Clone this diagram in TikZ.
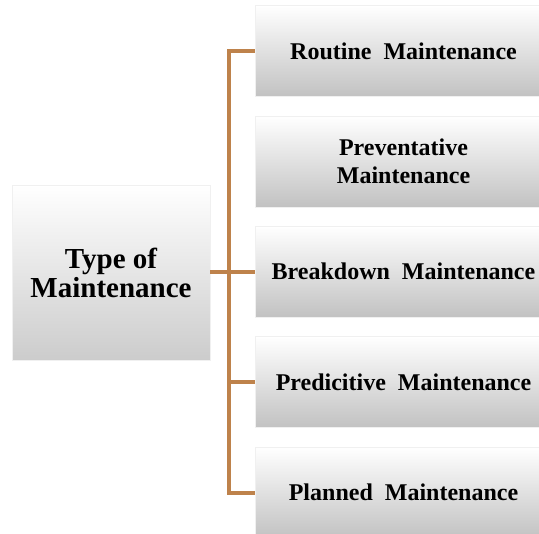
\documentclass[tikz,border=0pt]{standalone}
\usepackage{fontspec}
\setmainfont{Liberation Serif}
\usetikzlibrary{positioning}

\definecolor{bracketbrown}{RGB}{190,130,75}

\begin{document}
\begin{tikzpicture}[
  x=1pt, y=1pt,
  typebox/.style={
     rectangle,
     draw=black!6,
     top color=white,
     bottom color=black!20,
     minimum width=198pt,
     minimum height=175pt,
     align=center,
     font=\bfseries\fontsize{29}{29}\selectfont},
  kindbox/.style={
     rectangle,
     draw=black!6,
     top color=white,
     bottom color=black!24,
     minimum width=297pt,
     minimum height=91pt,
     align=center,
     font=\bfseries\fontsize{24}{28}\selectfont},
  bracket/.style={draw=bracketbrown, line width=4pt},
  node distance=19pt
  ]
  \useasboundingbox (0,0) rectangle (539,534);

  % left box
  \node[typebox] (types) at (111,261.5) {Type of\\Maintenance};

  % kinds of maintenance
  \node[kindbox] (routine) at (403.5,483) {Routine~ Maintenance};
  \node[kindbox, below=of routine]   (prevent)   {Preventative\\Maintenance};
  \node[kindbox, below=of prevent]   (breakdown) {Breakdown~ Maintenance};
  \node[kindbox, below=of breakdown] (predict)   {Predicitive~ Maintenance};
  \node[kindbox, below=of predict]   (planned)   {Planned~ Maintenance};

  % bracket
  \coordinate[left=26pt of routine.west] (btop);
  \coordinate[left=26pt of planned.west] (bbot);
  \draw[bracket] (routine.west) -- (btop) -- (bbot) -- (planned.west);
  \draw[bracket] (breakdown.west) -- (breakdown.west -| btop);
  \draw[bracket] (predict.west) -- (predict.west -| btop);
  \draw[bracket] (types.east) -- (types.east -| btop);
\end{tikzpicture}
\end{document}
